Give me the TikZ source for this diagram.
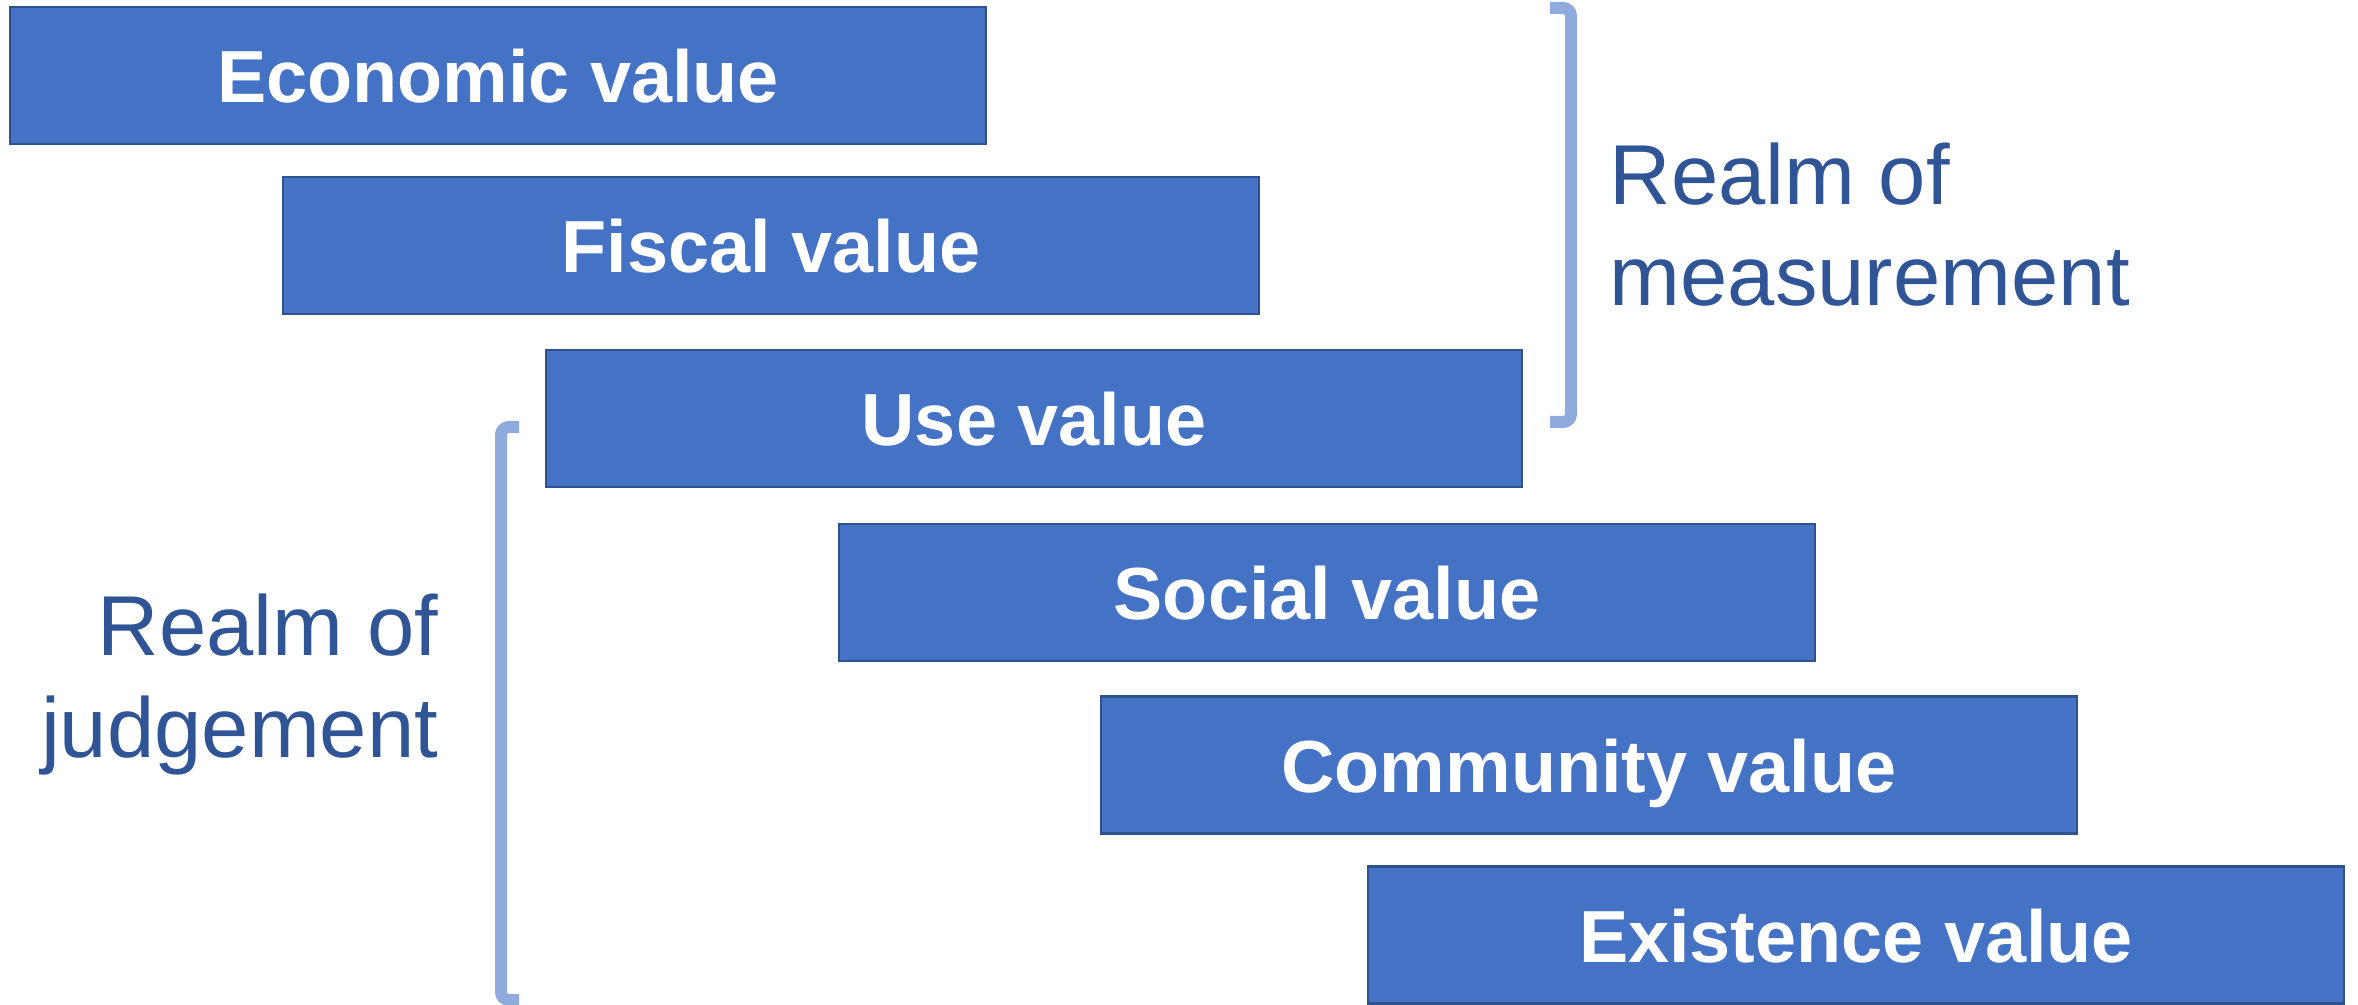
\documentclass[tikz,border=0pt]{standalone}
\usepackage{fontspec}
\setmainfont{Liberation Sans}
\definecolor{boxfill}{HTML}{4472C4}
\definecolor{boxline}{HTML}{2F528F}
\definecolor{realmtext}{HTML}{2F5597}
\definecolor{bracketcol}{HTML}{8FAADC}
\tikzset{
  valuebox/.style={rectangle, fill=boxfill, draw=boxline, line width=0.7pt,
    minimum width=9.76cm, minimum height=1.37cm, inner sep=0pt,
    text height=15.5pt, text depth=0pt,
    text=white, font=\fontsize{21}{25}\selectfont\bfseries},
  realm/.style={text=realmtext, inner sep=0pt,
    font=\fontsize{24.2}{29}\selectfont},
  bracket/.style={draw=bracketcol, line width=0.12cm, rounded corners=0.08cm}
}
\begin{document}
\begin{tikzpicture}
  \useasboundingbox (0,0) rectangle (23.58,-10.05);
  \clip (0,0) rectangle (23.58,-10.05);

  % staircase of value categories
  \node[valuebox] (econ)   at (4.98,-0.755)  {Economic value};
  \node[valuebox] (fiscal) at (7.71,-2.455)  {Fiscal value};
  \node[valuebox] (use)    at (10.34,-4.185) {Use value};
  \node[valuebox] (social) at (13.27,-5.925) {Social value};
  \node[valuebox] (comm)   at (15.89,-7.65)  {Community value};
  \node[valuebox] (exist)  at (18.56,-9.35)  {Existence value};

  % bracket on the right: realm of measurement
  \coordinate (mtop) at (15.50,-0.08);
  \coordinate (mbot) at (15.50,-4.22);
  \draw[bracket] (mtop) -- (15.71,-0.08) -- (15.71,-4.22) -- (mbot);
  \node[realm, anchor=base west, align=left] (meas) at (16.09,-3.06)
    {Realm of\\measurement};

  % bracket on the left: realm of judgement
  \coordinate (jtop) at (5.19,-4.27);
  \coordinate (jbot) at (5.19,-10.00);
  \draw[bracket] (jtop) -- (5.01,-4.27) -- (5.01,-10.00) -- (jbot);
  \node[realm, anchor=base east, align=right] (judg) at (4.39,-7.57)
    {Realm of\\judgement};
\end{tikzpicture}
\end{document}
